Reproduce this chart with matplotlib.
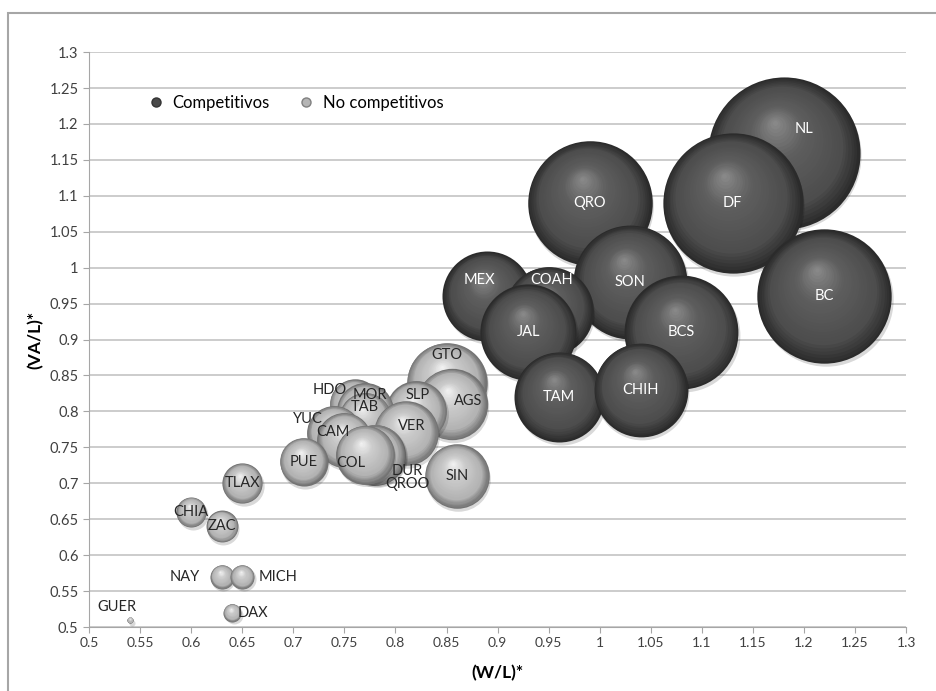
import numpy as np
import matplotlib
matplotlib.use("Agg")
import matplotlib.pyplot as plt
from matplotlib.lines import Line2D
from matplotlib.patches import Rectangle
from matplotlib.transforms import ScaledTranslation
from matplotlib.ticker import MultipleLocator, FuncFormatter

plt.rcParams['font.family'] = ['Lato', 'DejaVu Sans']

# Competitivos (drawn in this order)
comp_names = ['NL', 'DF', 'BC', 'QRO', 'SON', 'BCS', 'MEX', 'COAH', 'JAL', 'TAM', 'CHIH']
comp_x = [1.18, 1.13, 1.22, 0.99, 1.03, 1.08, 0.89, 0.95, 0.93, 0.96, 1.04]
comp_y = [1.16, 1.09, 0.96, 1.09, 0.98, 0.91, 0.96, 0.94, 0.91, 0.82, 0.83]
comp_size = [100, 85, 78, 67, 56, 56, 35, 34, 40, 35, 38]

# No competitivos
nc_names = ['GTO', 'AGS', 'SLP', 'HDO', 'MOR', 'TAB', 'YUC', 'CAM', 'VER', 'DUR', 'QROO',
            'COL', 'SIN', 'PUE', 'TLAX', 'CHIA', 'ZAC', 'NAY', 'MICH', 'DAX', 'GUER']
nc_x = [0.85, 0.855, 0.82, 0.76, 0.77, 0.77, 0.74, 0.75, 0.81, 0.78, 0.78,
        0.77, 0.86, 0.71, 0.65, 0.60, 0.63, 0.63, 0.65, 0.64, 0.54]
nc_y = [0.84, 0.81, 0.80, 0.81, 0.80, 0.79, 0.77, 0.76, 0.77, 0.74, 0.74,
        0.74, 0.71, 0.73, 0.70, 0.66, 0.64, 0.57, 0.57, 0.52, 0.51]
nc_size = [28, 22, 16, 11, 14, 12, 13, 13, 18, 16, 15,
           15, 18, 10, 7, 3.9, 4.4, 2.5, 2.5, 1.4, 0.16]

# label offsets (points) from bubble centre
label_off = {
    'NL': (15, 17), 'MEX': (-6, 12), 'COAH': (2, 22), 'GTO': (0, 20), 'AGS': (12, 2),
    'SLP': (1, 12), 'VER': (4, 5), 'HDO': (-18, 10), 'MOR': (4, 12), 'TAB': (0, 8),
    'YUC': (-19, 10), 'CAM': (-8, 6), 'COL': (-10, -6), 'DUR': (23, -12),
    'QROO': (23, -21), 'NAY': (-27, 0), 'MICH': (26, 0), 'DAX': (15, 0), 'GUER': (-9, 9),
}

PT_PER_SIZE = 120  # marker area (pt^2) per unit of bubble size

fig = plt.figure(figsize=(9.36, 6.91), dpi=100)
ax = fig.add_axes([0.0951, 0.0926, 0.873, 0.832])
fig.patches.append(Rectangle((8 / 936, -0.1), 1.2, 1 - 13 / 691 + 0.1, transform=fig.transFigure,
                             fill=False, edgecolor='#a6a6a6', lw=1.5))


def shade(t, stops):
    return str(np.interp(t, [0, 0.35, 0.8, 1.0], stops))


def bubble(x, y, size, stops, z):
    d = np.sqrt(size * PT_PER_SIZE)
    r = d / 2
    sh = ax.transData + ScaledTranslation(1.2 / 72, -2.0 / 72, fig.dpi_scale_trans)
    ax.scatter([x], [y], s=size * PT_PER_SIZE, color='black', alpha=0.15, lw=0,
               transform=sh, zorder=z)
    n = 30
    for i in range(n):
        t = 1 - i / n
        hx, hy = -0.12 * r * (1 - t), 0.4 * r * (1 - t)
        tr = ax.transData + ScaledTranslation(hx / 72, hy / 72, fig.dpi_scale_trans)
        ax.scatter([x], [y], s=(d * t) ** 2, color=shade(t, stops), lw=0,
                   transform=tr, zorder=z + 0.01 + i * 0.001)


dark = [0.55, 0.37, 0.30, 0.17]
light = [0.96, 0.80, 0.70, 0.45]

z = 2
for nm, x, y, s in zip(comp_names, comp_x, comp_y, comp_size):
    bubble(x, y, s, dark, z)
    z += 1
for nm, x, y, s in zip(nc_names, nc_x, nc_y, nc_size):
    bubble(x, y, s, light, z)
    z += 1

for nm, x, y in zip(comp_names, comp_x, comp_y):
    ax.annotate(nm, (x, y), xytext=label_off.get(nm, (0, 0)), textcoords='offset points',
                ha='center', va='center', fontsize=10.5, color='white', zorder=1000)
for nm, x, y in zip(nc_names, nc_x, nc_y):
    ax.annotate(nm, (x, y), xytext=label_off.get(nm, (0, 0)), textcoords='offset points',
                ha='center', va='center', fontsize=10.5, color='#262626', zorder=1000)

ax.set_xlim(0.5, 1.3)
ax.set_ylim(0.5, 1.3)
ax.xaxis.set_major_locator(MultipleLocator(0.05))
ax.yaxis.set_major_locator(MultipleLocator(0.05))
fmt = FuncFormatter(lambda v, p: '%g' % round(v, 2))
ax.xaxis.set_major_formatter(fmt)
ax.yaxis.set_major_formatter(fmt)
ax.grid(axis='y', color='#cccccc', lw=1.4)
ax.set_axisbelow(True)
for sp in ['top', 'right']:
    ax.spines[sp].set_visible(False)
for sp in ['left', 'bottom']:
    ax.spines[sp].set_color('#a6a6a6')
ax.tick_params(colors='#a6a6a6', labelcolor='#404040', length=4)
ax.tick_params(axis='y', labelsize=10.5)
ax.tick_params(axis='x', labelsize=10)

ax.set_xlabel('(W/L)*', fontsize=12.5, fontweight='bold', labelpad=11)
ax.set_ylabel('(VA/L)*', fontsize=12.5, fontweight='bold', labelpad=4)

handles = [Line2D([], [], ls='', marker='o', ms=6.5, mfc='#4a4a4a', mec='#333333', label='Competitivos'),
           Line2D([], [], ls='', marker='o', ms=6.5, mfc='#b5b5b5', mec='#808080', label='No competitivos')]
ax.legend(handles=handles, loc='center left', bbox_to_anchor=(0.043, 0.911), ncol=2,
          frameon=False, fontsize=12, handletextpad=0.0, columnspacing=1.2)

fig.savefig('out.png', dpi=100)
